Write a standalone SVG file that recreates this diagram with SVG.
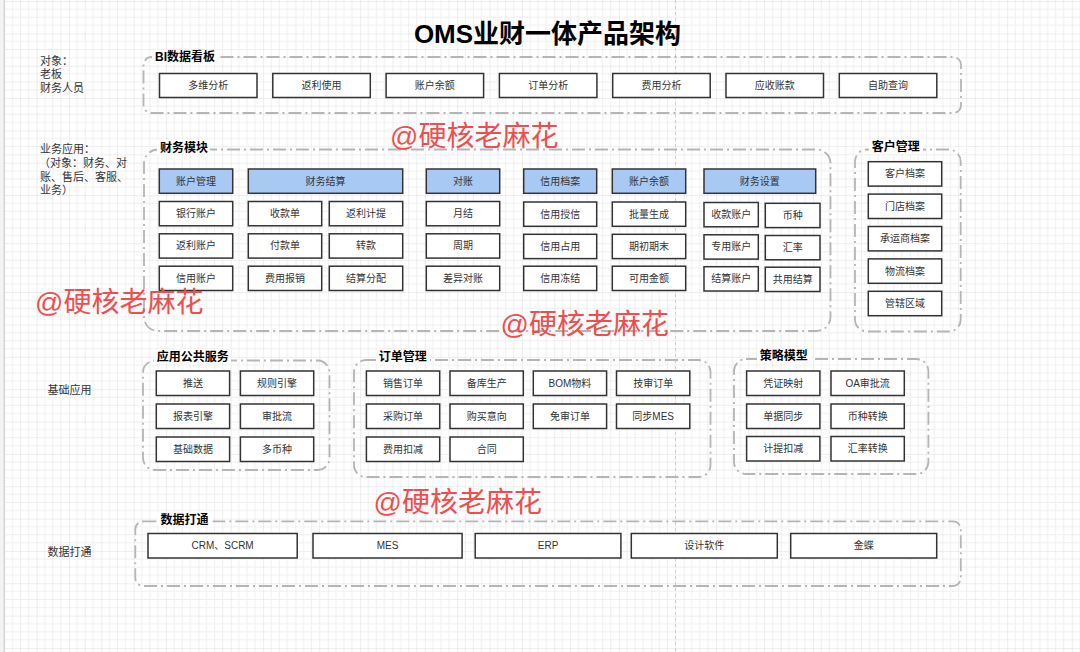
<svg xmlns="http://www.w3.org/2000/svg" width="1080" height="652" viewBox="0 0 1080 652">
<style>
.box{fill:#fff;stroke:#333;stroke-width:1.5}
.hdr{fill:#a9c9f5;stroke:#333;stroke-width:1.5}
.grp{fill:none;stroke:#b5b5b5;stroke-width:1.8;stroke-dasharray:13 4 2 4}
.t{font-family:"Liberation Sans","Noto Sans CJK SC",sans-serif;font-size:10px;fill:#333;text-anchor:middle;dominant-baseline:central}
.gt{font-family:"Liberation Sans","Noto Sans CJK SC",sans-serif;font-size:12px;font-weight:bold;fill:#000;dominant-baseline:central}
.lbl{font-family:"Liberation Sans","Noto Sans CJK SC",sans-serif;font-size:11px;fill:#333;dominant-baseline:central}
.wm{font-family:"Liberation Sans","Noto Sans CJK SC",sans-serif;font-size:28px;fill:#f04e4e;dominant-baseline:central}
.lb{fill:#fff}
</style>
<defs>
<pattern id="grid" x="4.3" y="1" width="32.35" height="32.35" patternUnits="userSpaceOnUse">
<path d="M8.09 0V32.35M16.18 0V32.35M24.26 0V32.35M0 8.09H32.35M0 16.18H32.35M0 24.26H32.35" stroke="#efefef" stroke-width="1" fill="none"/>
<path d="M0 0V32.35M0 0H32.35" stroke="#dedede" stroke-width="1" fill="none"/>
</pattern>
</defs>
<rect width="1080" height="652" fill="#fff"/>
<rect width="1080" height="652" fill="url(#grid)"/>
<rect x="0" y="0" width="4" height="652" fill="#f3f3f3"/>
<line x1="4.3" y1="0" x2="4.3" y2="652" stroke="#d6d6d6" stroke-width="1.5"/>
<line x1="675.5" y1="0" x2="675.5" y2="652" stroke="#cfcfcf" stroke-width="1" stroke-dasharray="3 3"/>

<text x="547.5" y="42.5" font-family="'Liberation Sans','Noto Sans CJK SC',sans-serif" font-size="26" font-weight="bold" text-anchor="middle" fill="#000">OMS业财一体产品架构</text>

<g id="side-labels">
<text class="lbl" x="40" y="60.5">对象：</text>
<text class="lbl" x="40" y="74">老板</text>
<text class="lbl" x="40" y="87.5">财务人员</text>
<text class="lbl" x="40" y="148.5">业务应用：</text>
<text class="lbl" x="39" y="162.5">（对象：财务、对</text>
<text class="lbl" x="40" y="176.5">账、售后、客服、</text>
<text class="lbl" x="40" y="190">业务）</text>
<text class="lbl" x="47.5" y="390">基础应用</text>
<text class="lbl" x="47.5" y="551.5">数据打通</text>
</g>

<g id="bi">
<rect class="grp" x="143.5" y="57" width="817.5" height="56" rx="8"/>
<rect class="lb" x="152" y="50" width="66" height="14"/>
<text class="gt" x="155" y="57">BI数据看板</text>
<g id="bi-1"><rect class="box" x="159.5" y="73.5" width="97.5" height="24"/><text class="t" x="208.25" y="85.5">多维分析</text></g>
<g id="bi-2"><rect class="box" x="272.8" y="73.5" width="97.5" height="24"/><text class="t" x="321.55" y="85.5">返利使用</text></g>
<g id="bi-3"><rect class="box" x="386.1" y="73.5" width="97.5" height="24"/><text class="t" x="434.85" y="85.5">账户余额</text></g>
<g id="bi-4"><rect class="box" x="499.4" y="73.5" width="97.5" height="24"/><text class="t" x="548.15" y="85.5">订单分析</text></g>
<g id="bi-5"><rect class="box" x="612.7" y="73.5" width="97.5" height="24"/><text class="t" x="661.45" y="85.5">费用分析</text></g>
<g id="bi-6"><rect class="box" x="726" y="73.5" width="97.5" height="24"/><text class="t" x="774.75" y="85.5">应收账款</text></g>
<g id="bi-7"><rect class="box" x="839.3" y="73.5" width="97.5" height="24"/><text class="t" x="888.05" y="85.5">自助查询</text></g>
</g>

<g id="finance">
<rect class="grp" x="144" y="149.5" width="686.5" height="181.5" rx="14"/>
<rect class="lb" x="157" y="140.5" width="53" height="14"/>
<text class="gt" x="160" y="147.5">财务模块</text>
<g id="f-h1"><rect class="hdr" x="159.3" y="169" width="73.4" height="24.3"/><text class="t" x="196" y="181.15">账户管理</text></g>
<g id="f-h2"><rect class="hdr" x="248.3" y="169" width="154.4" height="24.3"/><text class="t" x="325.5" y="181.15">财务结算</text></g>
<g id="f-h3"><rect class="hdr" x="426.3" y="169" width="73.4" height="24.3"/><text class="t" x="463" y="181.15">对账</text></g>
<g id="f-h4"><rect class="hdr" x="523.7" y="169" width="73" height="24.3"/><text class="t" x="560.2" y="181.15">信用档案</text></g>
<g id="f-h5"><rect class="hdr" x="612.3" y="169" width="73.4" height="24.3"/><text class="t" x="649" y="181.15">账户余额</text></g>
<g id="f-h6"><rect class="hdr" x="704" y="169" width="111.7" height="24.3"/><text class="t" x="759.85" y="181.15">财务设置</text></g>

<g id="f-1a"><rect class="box" x="159.3" y="201.5" width="73.4" height="24.3"/><text class="t" x="196" y="213.65">银行账户</text></g>
<g id="f-1b"><rect class="box" x="159.3" y="233.8" width="73.4" height="24.3"/><text class="t" x="196" y="245.95">返利账户</text></g>
<g id="f-1c"><rect class="box" x="159.3" y="266.2" width="73.4" height="24.3"/><text class="t" x="196" y="278.35">信用账户</text></g>

<g id="f-2a"><rect class="box" x="248.3" y="201.5" width="73.4" height="24.3"/><text class="t" x="285" y="213.65">收款单</text></g>
<g id="f-2b"><rect class="box" x="248.3" y="233.8" width="73.4" height="24.3"/><text class="t" x="285" y="245.95">付款单</text></g>
<g id="f-2c"><rect class="box" x="248.3" y="266.2" width="73.4" height="24.3"/><text class="t" x="285" y="278.35">费用报销</text></g>
<g id="f-2d"><rect class="box" x="329.3" y="201.5" width="73.4" height="24.3"/><text class="t" x="366" y="213.65">返利计提</text></g>
<g id="f-2e"><rect class="box" x="329.3" y="233.8" width="73.4" height="24.3"/><text class="t" x="366" y="245.95">转款</text></g>
<g id="f-2f"><rect class="box" x="329.3" y="266.2" width="73.4" height="24.3"/><text class="t" x="366" y="278.35">结算分配</text></g>

<g id="f-3a"><rect class="box" x="426.3" y="201.5" width="73.4" height="24.3"/><text class="t" x="463" y="213.65">月结</text></g>
<g id="f-3b"><rect class="box" x="426.3" y="233.8" width="73.4" height="24.3"/><text class="t" x="463" y="245.95">周期</text></g>
<g id="f-3c"><rect class="box" x="426.3" y="266.2" width="73.4" height="24.3"/><text class="t" x="463" y="278.35">差异对账</text></g>

<g id="f-4a"><rect class="box" x="523.7" y="202" width="73" height="24.3"/><text class="t" x="560.2" y="214.15">信用授信</text></g>
<g id="f-4b"><rect class="box" x="523.7" y="234.3" width="73" height="24.3"/><text class="t" x="560.2" y="246.45">信用占用</text></g>
<g id="f-4c"><rect class="box" x="523.7" y="266.2" width="73" height="24.3"/><text class="t" x="560.2" y="278.35">信用冻结</text></g>

<g id="f-5a"><rect class="box" x="612.3" y="202" width="73.4" height="24.3"/><text class="t" x="649" y="214.15">批量生成</text></g>
<g id="f-5b"><rect class="box" x="612.3" y="234.3" width="73.4" height="24.3"/><text class="t" x="649" y="246.45">期初期末</text></g>
<g id="f-5c"><rect class="box" x="612.3" y="266.2" width="73.4" height="24.3"/><text class="t" x="649" y="278.35">可用金额</text></g>

<g id="f-6a"><rect class="box" x="704" y="202.5" width="54.3" height="24.3"/><text class="t" x="731.15" y="214.65">收款账户</text></g>
<g id="f-6b"><rect class="box" x="704" y="234.8" width="54.3" height="24.3"/><text class="t" x="731.15" y="246.95">专用账户</text></g>
<g id="f-6c"><rect class="box" x="704" y="266.7" width="54.3" height="24.3"/><text class="t" x="731.15" y="278.85">结算账户</text></g>
<g id="f-6d"><rect class="box" x="765.3" y="203.3" width="54.7" height="24.3"/><text class="t" x="792.65" y="215.45">币种</text></g>
<g id="f-6e"><rect class="box" x="765.3" y="235.5" width="54.7" height="24.3"/><text class="t" x="792.65" y="247.65">汇率</text></g>
<g id="f-6f"><rect class="box" x="765.3" y="267.2" width="54.7" height="24.3"/><text class="t" x="792.65" y="279.35">共用结算</text></g>
</g>

<g id="customer">
<rect class="grp" x="855" y="149.5" width="105.7" height="182" rx="12"/>
<rect class="lb" x="869" y="140" width="54" height="14"/>
<text class="gt" x="871.7" y="147">客户管理</text>
<g id="c-1"><rect class="box" x="868.3" y="161.7" width="73.4" height="24.4"/><text class="t" x="905" y="173.9">客户档案</text></g>
<g id="c-2"><rect class="box" x="868.3" y="194.1" width="73.4" height="24.4"/><text class="t" x="905" y="206.3">门店档案</text></g>
<g id="c-3"><rect class="box" x="868.3" y="226.5" width="73.4" height="24.4"/><text class="t" x="905" y="238.7">承运商档案</text></g>
<g id="c-4"><rect class="box" x="868.3" y="258.9" width="73.4" height="24.4"/><text class="t" x="905" y="271.1">物流档案</text></g>
<g id="c-5"><rect class="box" x="868.3" y="291.3" width="73.4" height="24.4"/><text class="t" x="905" y="303.5">管辖区域</text></g>
</g>

<g id="public">
<rect class="grp" x="143" y="360.5" width="186.5" height="109.5" rx="12"/>
<rect class="lb" x="154" y="349.5" width="77" height="14"/>
<text class="gt" x="156.7" y="356.5">应用公共服务</text>
<g id="p-1"><rect class="box" x="156.3" y="371" width="73.3" height="24.5"/><text class="t" x="192.95" y="383.25">推送</text></g>
<g id="p-2"><rect class="box" x="240.4" y="371" width="73.3" height="24.5"/><text class="t" x="277.05" y="383.25">规则引擎</text></g>
<g id="p-3"><rect class="box" x="156.3" y="404" width="73.3" height="24.5"/><text class="t" x="192.95" y="416.25">报表引擎</text></g>
<g id="p-4"><rect class="box" x="240.4" y="404" width="73.3" height="24.5"/><text class="t" x="277.05" y="416.25">审批流</text></g>
<g id="p-5"><rect class="box" x="156.3" y="437" width="73.3" height="24.5"/><text class="t" x="192.95" y="449.25">基础数据</text></g>
<g id="p-6"><rect class="box" x="240.4" y="437" width="73.3" height="24.5"/><text class="t" x="277.05" y="449.25">多币种</text></g>
</g>

<g id="order">
<rect class="grp" x="354" y="360" width="356.5" height="117" rx="12"/>
<rect class="lb" x="376" y="349.5" width="54" height="14"/>
<text class="gt" x="378.8" y="356.5">订单管理</text>
<g id="o-1"><rect class="box" x="366.4" y="371" width="73.3" height="24.5"/><text class="t" x="403.05" y="383.25">销售订单</text></g>
<g id="o-2"><rect class="box" x="450" y="371" width="73.3" height="24.5"/><text class="t" x="486.65" y="383.25">备库生产</text></g>
<g id="o-3"><rect class="box" x="533.3" y="371" width="73.3" height="24.5"/><text class="t" x="569.95" y="383.25">BOM物料</text></g>
<g id="o-4"><rect class="box" x="616.5" y="371" width="73.3" height="24.5"/><text class="t" x="653.15" y="383.25">技审订单</text></g>
<g id="o-5"><rect class="box" x="366.4" y="404" width="73.3" height="24.5"/><text class="t" x="403.05" y="416.25">采购订单</text></g>
<g id="o-6"><rect class="box" x="450" y="404" width="73.3" height="24.5"/><text class="t" x="486.65" y="416.25">购买意向</text></g>
<g id="o-7"><rect class="box" x="533.3" y="404" width="73.3" height="24.5"/><text class="t" x="569.95" y="416.25">免审订单</text></g>
<g id="o-8"><rect class="box" x="616.5" y="404" width="73.3" height="24.5"/><text class="t" x="653.15" y="416.25">同步MES</text></g>
<g id="o-9"><rect class="box" x="366.4" y="437" width="73.3" height="24.5"/><text class="t" x="403.05" y="449.25">费用扣减</text></g>
<g id="o-10"><rect class="box" x="450" y="437" width="73.3" height="24.5"/><text class="t" x="486.65" y="449.25">合同</text></g>
</g>

<g id="strategy">
<rect class="grp" x="734" y="359" width="194.4" height="115" rx="12"/>
<rect class="lb" x="757" y="349" width="54" height="14"/>
<text class="gt" x="759.7" y="356">策略模型</text>
<g id="s-1"><rect class="box" x="746.6" y="371" width="73.3" height="24.5"/><text class="t" x="783.25" y="383.25">凭证映射</text></g>
<g id="s-2"><rect class="box" x="831" y="371" width="73.3" height="24.5"/><text class="t" x="867.65" y="383.25">OA审批流</text></g>
<g id="s-3"><rect class="box" x="746.6" y="404" width="73.3" height="24.5"/><text class="t" x="783.25" y="416.25">单据同步</text></g>
<g id="s-4"><rect class="box" x="831" y="404" width="73.3" height="24.5"/><text class="t" x="867.65" y="416.25">币种转换</text></g>
<g id="s-5"><rect class="box" x="746.6" y="436.5" width="73.3" height="24.5"/><text class="t" x="783.25" y="448.75">计提扣减</text></g>
<g id="s-6"><rect class="box" x="831" y="436.5" width="73.3" height="24.5"/><text class="t" x="867.65" y="448.75">汇率转换</text></g>
</g>

<g id="data">
<rect class="grp" x="135.3" y="521.3" width="825.5" height="64.7" rx="8"/>
<rect class="lb" x="157.5" y="512.5" width="55" height="14"/>
<text class="gt" x="160.5" y="519.6">数据打通</text>
<g id="d-1"><rect class="box" x="148" y="533.5" width="149.2" height="24.5"/><text class="t" x="222.6" y="545.75">CRM、SCRM</text></g>
<g id="d-2"><rect class="box" x="313" y="533.5" width="149.1" height="24.5"/><text class="t" x="387.55" y="545.75">MES</text></g>
<g id="d-3"><rect class="box" x="475.2" y="533.5" width="145.7" height="24.5"/><text class="t" x="548.05" y="545.75">ERP</text></g>
<g id="d-4"><rect class="box" x="631.3" y="533.5" width="146" height="24.5"/><text class="t" x="704.3" y="545.75">设计软件</text></g>
<g id="d-5"><rect class="box" x="790.7" y="533.5" width="146" height="24.5"/><text class="t" x="863.7" y="545.75">金蝶</text></g>
</g>

<g id="connectors"/>

<g id="watermarks">
<text class="wm" x="390" y="136">@硬核老麻花</text>
<text class="wm" x="35" y="302">@硬核老麻花</text>
<text class="wm" x="500.5" y="324.5">@硬核老麻花</text>
<text class="wm" x="373.5" y="502.5">@硬核老麻花</text>
</g>
</svg>
